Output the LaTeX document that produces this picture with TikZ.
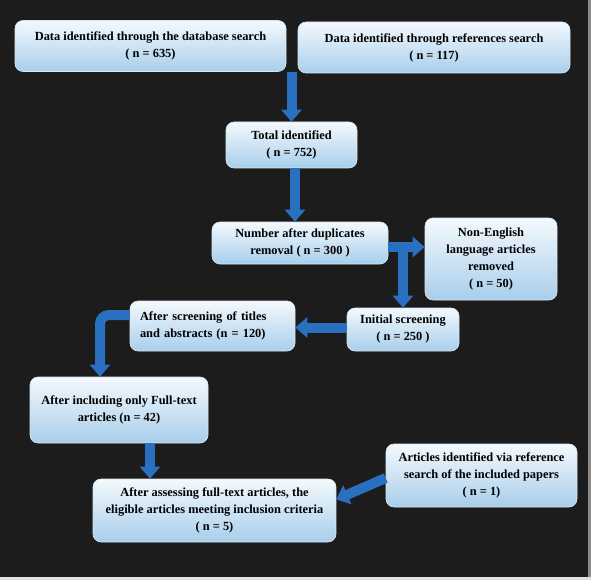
\documentclass[tikz,border=0pt]{standalone}
\usepackage{fontspec}
\setmainfont{Liberation Serif}
\usetikzlibrary{arrows.meta,calc}
\definecolor{bg}{RGB}{28,28,28}
\definecolor{boxtop}{RGB}{244,249,253}
\definecolor{boxbot}{RGB}{168,206,235}
\definecolor{arr}{RGB}{42,112,192}
\definecolor{edge}{RGB}{215,230,243}
\begin{document}
\begin{tikzpicture}[x=1pt,y=-1pt,
  box/.style={rounded corners=8pt, top color=boxtop, bottom color=boxbot,
    draw=edge, line width=0.6pt, font=\fontsize{12.4}{17}\selectfont\bfseries,
    align=center, inner sep=2pt, text=black},
  flow/.style={draw=arr, line width=10pt, -{Triangle[width=20pt,length=12pt]}}]
\fill[bg] (0,0) rectangle (591,580);
\fill[black!12] (0,577) rectangle (591,580);
\fill[black!45] (588,0) rectangle (591,577);

\node[box, minimum width=271pt, minimum height=51pt] (b1) at (150.5,46)
  {Data identified through the database search\\( n = 635)};
\node[box, minimum width=272pt, minimum height=51pt] (b2) at (434,47.5)
  {Data identified through references search\\( n = 117)};
\node[box, minimum width=131pt, minimum height=46pt] (b3) at (291.5,145)
  {Total identified\\( n = 752)};
\node[box, minimum width=176pt, minimum height=42pt] (b4) at (300,243)
  {Number after duplicates\\removal ( n = 300 )};
\node[box, minimum width=132pt, minimum height=82pt] (b5) at (491,259)
  {Non-English\\language articles\\removed\\( n = 50)};
\node[box, minimum width=112pt, minimum height=43pt] (b6) at (403,329.5)
  {Initial screening\\( n = 250 )};
\node[box, text width=145pt, inner xsep=10pt, align=left, minimum height=50pt] (b7) at (212.5,326)
  {After screening of titles\\and abstracts (n = 120)};
\node[box, minimum width=178pt, minimum height=66pt] (b8) at (119,410)
  {After including only Full-text\\articles (n = 42)};
\node[box, minimum width=243pt, minimum height=63pt] (b9) at (214.5,510.5)
  {After assessing full-text articles, the\\eligible articles meeting inclusion criteria\\( n = 5)};
\node[box, minimum width=191pt, minimum height=63pt] (b10) at (481.5,475.5)
  {Articles identified via reference\\search of the included papers\\( n = 1)};

\draw[flow] (b3.north |- b1.south) -- (b3.north);
\draw[flow] ([xshift=3.5pt]b3.south) -- ([xshift=3.5pt]b3.south |- b4.north);
\draw[flow] ([yshift=-4pt]b4.east) -- ([yshift=-4pt]b4.east -| b5.west);
\draw[flow] ([yshift=-4pt]b4.east -| b6.north) -- (b6.north);
\draw[flow] ([yshift=2pt]b6.west) -- ([yshift=2pt]b6.west -| b7.east);
\draw[flow, rounded corners=9pt] ([yshift=11pt]b7.west) -| ([xshift=-19pt]b8.north);
\draw[flow] ([xshift=31pt]b8.south) -- ([xshift=31pt]b8.south |- b9.north);
\draw[flow] ([yshift=-2.5pt]b10.west) -- ([yshift=11pt]b9.east);
\end{tikzpicture}
\end{document}
